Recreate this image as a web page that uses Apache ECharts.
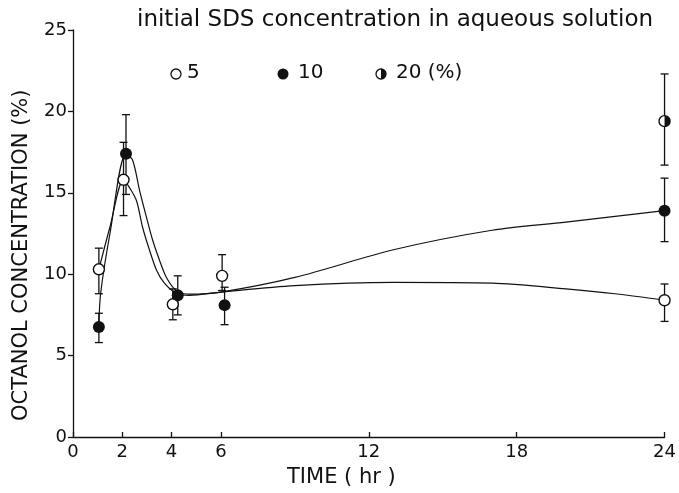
<!DOCTYPE html>
<html>
<head>
<meta charset="utf-8">
<script src="https://cdn.jsdelivr.net/npm/echarts@6/dist/echarts.min.js"></script>
<style>
  html, body { margin: 0; padding: 0; background: #fff; }
  #chart { width: 679px; height: 493px; }
</style>
</head>
<body>
<div id="chart"></div>
<script>
// measured points: 5 % SDS (open), 10 % SDS (filled), 20 % SDS (half filled)
const openTime = [1.05, 2.05, 4.05, 6.05, 24];
const openValue = [10.3, 15.8, 8.15, 9.9, 8.4];
const openLow = [8.8, 13.6, 7.2, 9.0, 7.1];
const openHigh = [11.6, 18.1, 9.1, 11.2, 9.4];

const filledTime = [1.05, 2.15, 4.25, 6.15, 24];
const filledValue = [6.75, 17.4, 8.7, 8.1, 13.9];
const filledLow = [5.8, 14.9, 7.5, 6.9, 12.0];
const filledHigh = [7.6, 19.8, 9.9, 9.2, 15.9];

const halfTime = [24];
const halfValue = [19.4];
const halfLow = [16.7];
const halfHigh = [22.3];

// fitted curves
const openCurveTime = [1.05, 1.5, 2.05, 2.3, 2.58, 2.82, 3.1, 3.39, 3.71, 4.19, 4.72, 6, 9, 13, 17, 20, 22, 24];
const openCurveValue = [10.3, 12.9, 15.8, 15.3, 14.5, 12.9, 11.5, 10.25, 9.45, 8.83, 8.7, 8.9, 9.3, 9.5, 9.45, 9.1, 8.8, 8.4];
const filledCurveTime = [1.05, 1.12, 1.5, 2.15, 2.42, 2.7, 2.98, 3.23, 3.51, 3.79, 4.19, 4.72, 6, 9, 13, 17, 20, 24];
const filledCurveValue = [6.8, 8.8, 12.5, 17.4, 17.0, 15.15, 13.5, 12.1, 10.86, 9.8, 9.0, 8.77, 8.9, 9.8, 11.5, 12.7, 13.2, 13.9];

const xTicks = [0, 2, 4, 6, 12, 18, 24];
const legendLabels = ['5', '10', '20 (%)'];
const titleText = 'initial SDS concentration in aqueous solution';
const xName = 'TIME ( hr )';
const yName = 'OCTANOL CONCENTRATION (%)';

const INK = '#111';
const FONT = 'DejaVu Sans';

const zip = (a, b) => a.map((v, i) => [v, b[i]]);
const errRows = (t, lo, hi) => t.map((v, i) => [v, lo[i], hi[i]]);
const errData = errRows(openTime, openLow, openHigh)
  .concat(errRows(filledTime, filledLow, filledHigh))
  .concat(errRows(halfTime, halfLow, halfHigh));

const chart = echarts.init(document.getElementById('chart'), null, { renderer: 'canvas' });

chart.setOption({
  backgroundColor: '#fff',
  animation: false,
  grid: { left: 73, right: 11, top: 30, bottom: 56 },
  xAxis: {
    type: 'value', min: 0, max: 24,
    axisLine: { lineStyle: { color: INK, width: 1.3 } },
    axisTick: { inside: true, length: 5, customValues: xTicks, lineStyle: { color: INK, width: 1.3 } },
    axisLabel: { customValues: xTicks, color: INK, fontFamily: FONT, fontSize: 18, margin: 6 },
    splitLine: { show: false }
  },
  yAxis: {
    type: 'value', min: 0, max: 25, interval: 5,
    axisLine: { show: true, lineStyle: { color: INK, width: 1.3 } },
    axisTick: { show: true, length: 5, lineStyle: { color: INK, width: 1.3 } },
    axisLabel: { color: INK, fontFamily: FONT, fontSize: 18, margin: 6 },
    splitLine: { show: false }
  },
  graphic: [
    { type: 'text', left: 137, top: 9, style: { text: titleText, font: '23px ' + FONT, fill: INK } },
    { type: 'circle', shape: { cx: 176, cy: 74, r: 5 }, style: { fill: '#fff', stroke: INK, lineWidth: 1.3 } },
    { type: 'text', left: 187, top: 63, style: { text: legendLabels[0], font: '20px ' + FONT, fill: INK } },
    { type: 'circle', shape: { cx: 283, cy: 74, r: 5.5 }, style: { fill: INK } },
    { type: 'text', left: 298, top: 63, style: { text: legendLabels[1], font: '20px ' + FONT, fill: INK } },
    { type: 'circle', shape: { cx: 381, cy: 74, r: 5 }, style: { fill: '#fff', stroke: INK, lineWidth: 1.3 } },
    { type: 'sector', shape: { cx: 381, cy: 74, r0: 0, r: 5, startAngle: -Math.PI / 2, endAngle: Math.PI / 2 }, style: { fill: INK } },
    { type: 'text', left: 396, top: 63, style: { text: legendLabels[2], font: '20px ' + FONT, fill: INK } },
    { type: 'text', left: 287, top: 467, style: { text: xName, font: '21px ' + FONT, fill: INK } },
    { type: 'text', x: 11, y: 421, rotation: Math.PI / 2, style: { text: yName, font: '21px ' + FONT, fill: INK } }
  ],
  series: [
    {
      type: 'line', data: zip(openCurveTime, openCurveValue), smooth: 0.3,
      symbol: 'none', lineStyle: { color: INK, width: 1.2 }, z: 2
    },
    {
      type: 'line', data: zip(filledCurveTime, filledCurveValue), smooth: 0.3,
      symbol: 'none', lineStyle: { color: INK, width: 1.2 }, z: 2
    },
    {
      type: 'custom', data: errData, z: 3,
      renderItem(params, api) {
        const top = api.coord([api.value(0), api.value(2)]);
        const bot = api.coord([api.value(0), api.value(1)]);
        const x = top[0];
        const w = 4;
        const s = { stroke: INK, lineWidth: 1.3 };
        return {
          type: 'group',
          children: [
            { type: 'line', shape: { x1: x, y1: top[1], x2: x, y2: bot[1] }, style: s },
            { type: 'line', shape: { x1: x - w, y1: top[1], x2: x + w, y2: top[1] }, style: s },
            { type: 'line', shape: { x1: x - w, y1: bot[1], x2: x + w, y2: bot[1] }, style: s }
          ]
        };
      }
    },
    {
      type: 'scatter', data: zip(openTime, openValue), symbol: 'circle', symbolSize: 11, z: 5,
      itemStyle: { color: '#fff', borderColor: INK, borderWidth: 1.4, opacity: 1 }
    },
    {
      type: 'scatter', data: zip(filledTime, filledValue), symbol: 'circle', symbolSize: 12, z: 5,
      itemStyle: { color: INK, opacity: 1 }
    },
    {
      type: 'custom', data: zip(halfTime, halfValue), z: 5,
      renderItem(params, api) {
        const p = api.coord([api.value(0), api.value(1)]);
        return {
          type: 'group',
          children: [
            { type: 'circle', shape: { cx: p[0], cy: p[1], r: 5.5 }, style: { fill: '#fff', stroke: INK, lineWidth: 1.4 } },
            { type: 'sector', shape: { cx: p[0], cy: p[1], r0: 0, r: 5.5, startAngle: -Math.PI / 2, endAngle: Math.PI / 2 }, style: { fill: INK } }
          ]
        };
      }
    }
  ]
});
</script>
</body>
</html>
